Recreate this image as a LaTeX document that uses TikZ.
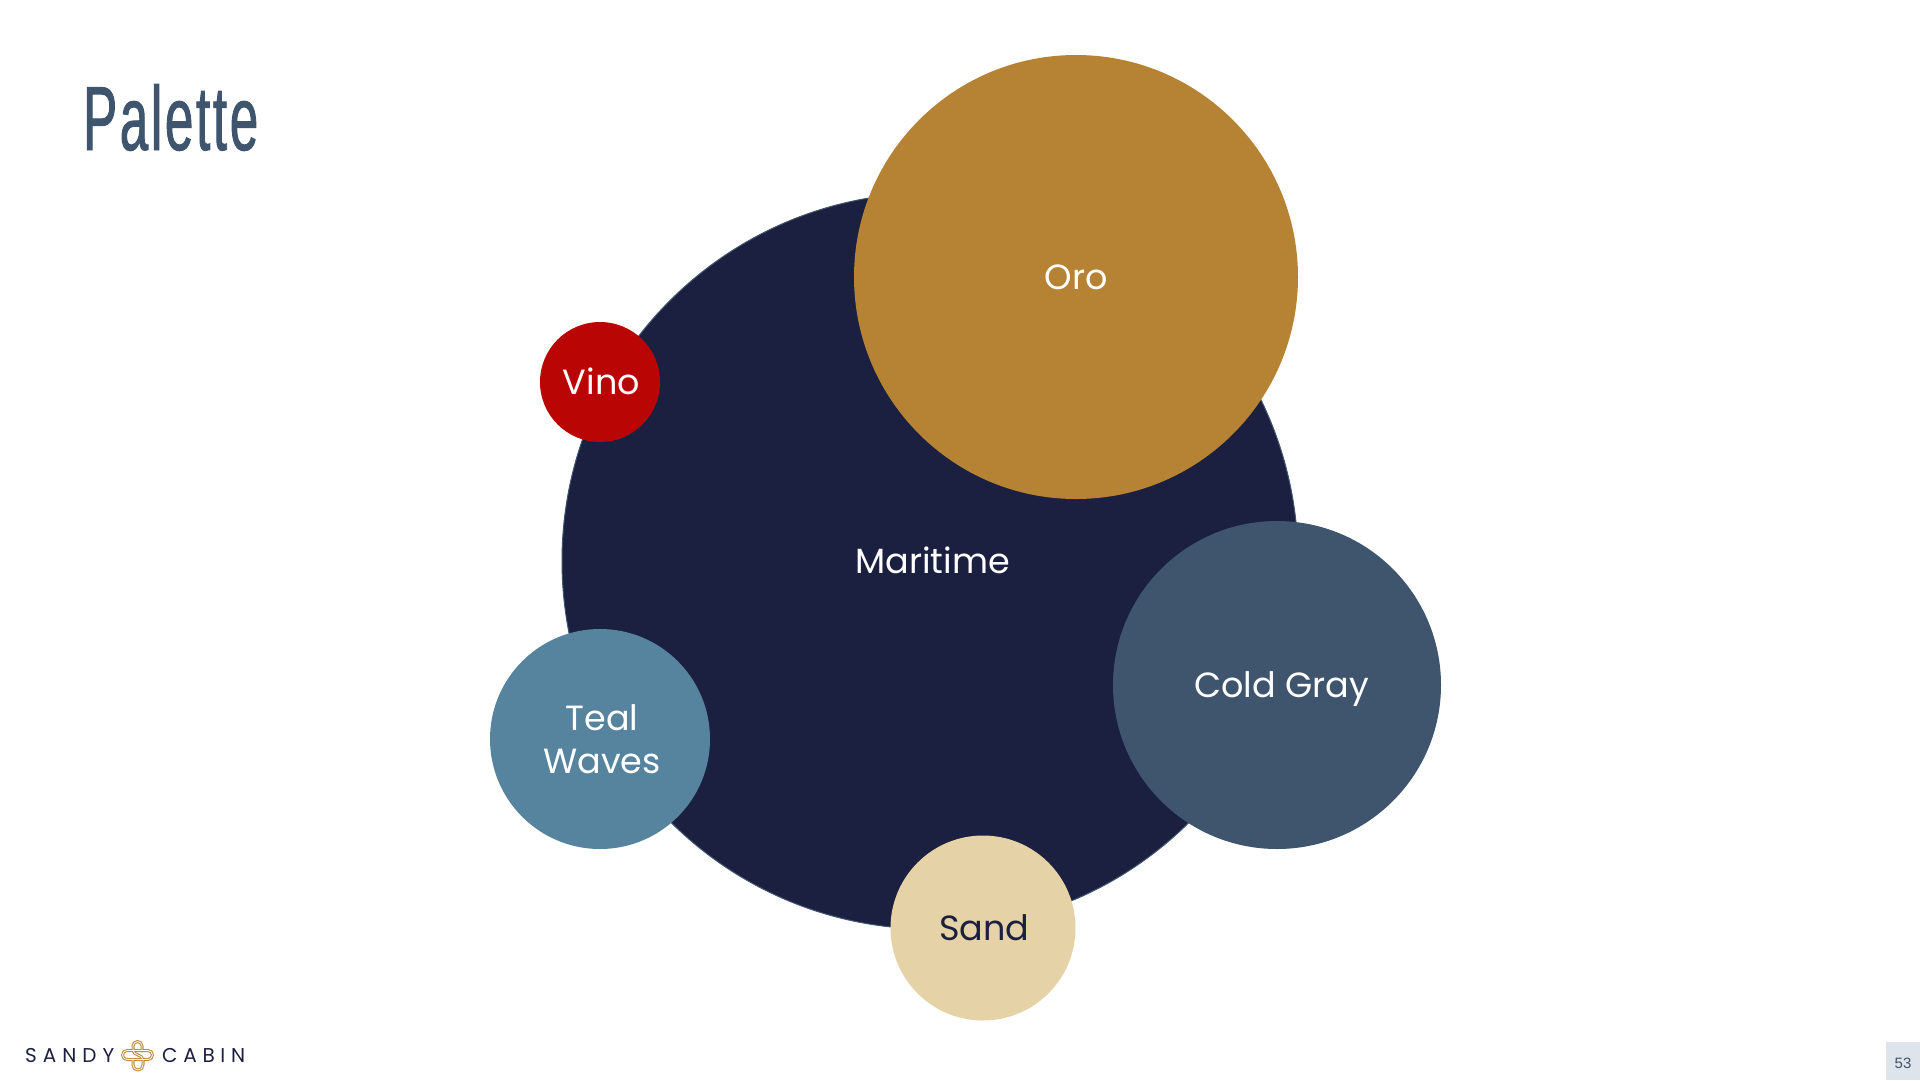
\documentclass[tikz,border=0pt]{standalone}
\usepackage{fontspec}
\setmainfont{Poppins}
\newfontfamily\titlefont[FakeStretch=0.56,FakeBold=1,LetterSpace=3]{Liberation Sans}
\newfontfamily\numfont{Liberation Sans}
\definecolor{navy}{HTML}{1C2040}
\definecolor{slateb}{HTML}{3F556E}
\definecolor{oro}{HTML}{B68334}
\definecolor{vino}{HTML}{BA0505}
\definecolor{teal}{HTML}{56849E}
\definecolor{sand}{HTML}{E5D2A6}
\definecolor{numbg}{HTML}{DEE4EC}
\definecolor{goldk}{HTML}{C08C3E}
\tikzset{
  blob/.style={circle,inner sep=0pt,align=center,text=white,font=\fontsize{35}{43}\selectfont},
  logotext/.style={inner sep=0pt,text=navy,font=\fontsize{20}{22}\selectfont},
  knotout/.style={draw=goldk,line width=3pt,line cap=round,line join=round},
  knotin/.style={draw=white,line width=0.8pt,line cap=round,line join=round}
}
\begin{document}
\begin{tikzpicture}[x=1pt,y=-1pt]
\useasboundingbox (0,0) rectangle (1920,1080);
\node[blob,fill=navy,draw=slateb,line width=1pt,minimum size=736pt] (maritime) at (930,561) {\hspace*{5pt}\raisebox{1.2pt}{Maritime}};
\node[blob,fill=oro,minimum size=444pt] (oro) at (1076,277) {Oro};
\node[blob,fill=vino,minimum size=120pt] (vinoc) at (600,382) {\hspace*{3pt}\raisebox{1.2pt}{Vino}};
\node[blob,fill=slateb,text depth=0pt,minimum size=328pt] (cold) at (1277,685) {\hspace*{9pt}Cold Gray};
\node[blob,fill=teal,minimum size=220pt] (tealc) at (600,739) {\hspace*{4pt}Teal\\\hspace*{4pt}Waves};
\node[blob,fill=sand,text=navy,minimum size=185pt] (sandc) at (983,928) {\hspace*{3pt}Sand};
\node[inner sep=0pt,anchor=base west,text=slateb,font=\titlefont\fontsize{91}{96}\selectfont] (title) at (83,150) {Palette};
\node[logotext,anchor=base west] (logoa) at (25,1062) {S\hspace{6pt}A\hspace{6pt}N\hspace{6pt}D\hspace{6pt}Y};
\node[logotext,anchor=base west] (logob) at (162,1062) {C\hspace{5.7pt}A\hspace{5.7pt}B\hspace{5.7pt}I\hspace{5.7pt}N};
% knot of the logo
\foreach \sty in {knotout,knotin}{
  \draw[\sty] (127,1050.5) -- (148,1050.5) arc (-90:90:4.5) -- (127,1059.5) arc (90:270:4.5) -- cycle;
  \draw[\sty] (142,1051) -- (142,1046) arc (0:-180:4.5) -- (133,1050) .. controls (133,1056) and (143,1054) .. (143,1060) -- (143,1065) arc (0:180:5) -- (133,1060);
}
\node[fill=numbg,minimum width=34pt,minimum height=38pt,inner sep=0pt] (numbox) at (1903,1061) {};
\node[inner sep=0pt,text=slateb,font=\numfont\fontsize{15}{18}\selectfont] (num) at (1903,1063) {53};
\end{tikzpicture}
\end{document}
